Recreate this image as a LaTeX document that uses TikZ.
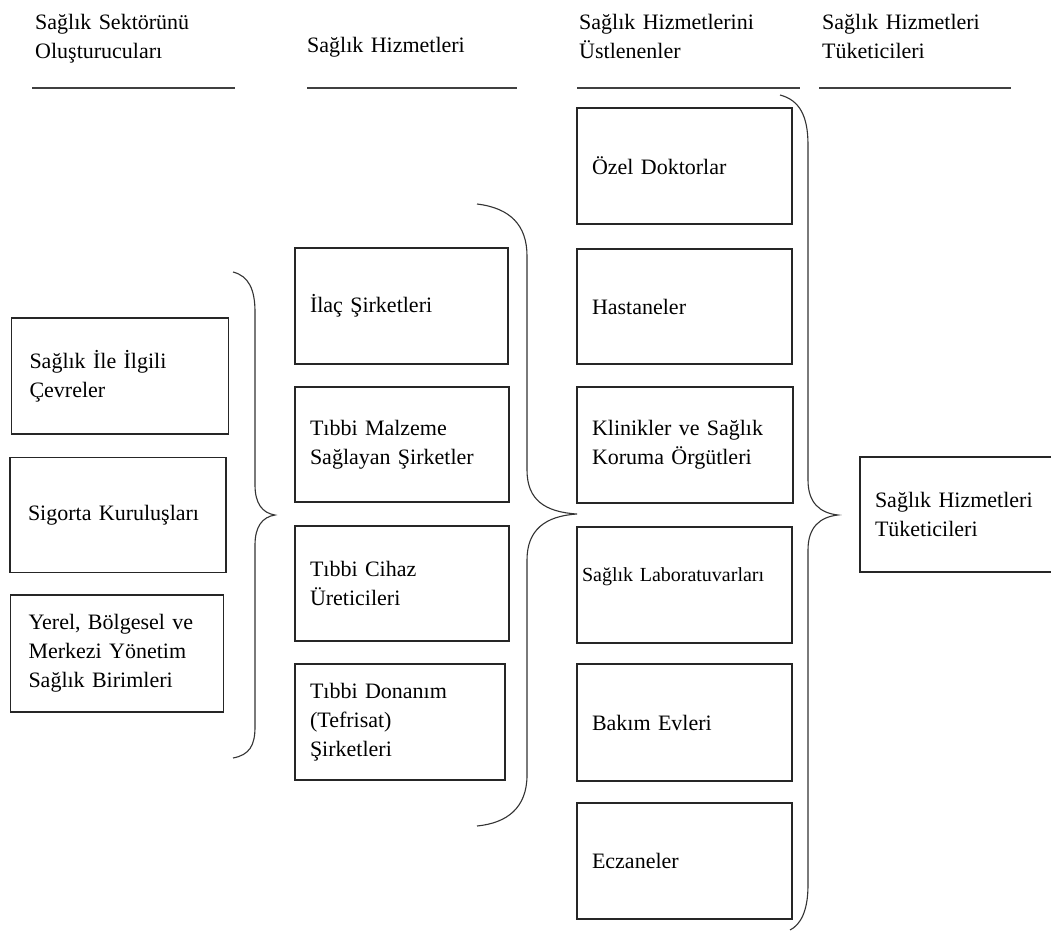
\documentclass[tikz,border=0pt]{standalone}
\usepackage{fontspec}
\setmainfont{Liberation Serif}
\tikzset{
  hdr/.style={font=\fontsize{22}{29}\selectfont, align=left, inner sep=0pt, text width=230pt, anchor=base west},
  box/.style={draw=black!85, line width=1.5pt, rectangle, inner xsep=15pt, inner ysep=0pt,
              align=left, font=\fontsize{22}{29}\selectfont, anchor=center},
  rule/.style={draw=black!75, line width=2pt},
  bracel/.style={draw=black!80, line width=1.1pt}
}
\begin{document}
\begin{tikzpicture}[x=1pt,y=-1pt]
\useasboundingbox (0,0) rectangle (1051,932);
\fill[white] (0,0) rectangle (1051,932);
\clip (0,0) rectangle (1051,932);

% headers
\node[hdr] (h1) at (35,29) {Sağlık Sektörünü\\Oluşturucuları};
\node[hdr] (h2) at (307,52) {Sağlık Hizmetleri};
\node[hdr] (h3) at (579,29) {Sağlık Hizmetlerini\\Üstlenenler};
\node[hdr] (h4) at (822,29) {Sağlık Hizmetleri\\Tüketicileri};

\coordinate (u1a) at (32,88);  \coordinate (u1b) at (235,88);
\coordinate (u2a) at (307,88); \coordinate (u2b) at (517,88);
\coordinate (u3a) at (577,88); \coordinate (u3b) at (800,88);
\coordinate (u4a) at (819,88); \coordinate (u4b) at (1011,88);
\draw[rule] (u1a) -- (u1b);
\draw[rule] (u2a) -- (u2b);
\draw[rule] (u3a) -- (u3b);
\draw[rule] (u4a) -- (u4b);

% column 1
\node[box, inner xsep=18pt, minimum width=217pt, text width=181pt, minimum height=116pt] (b1) at (120,376) {Sağlık İle İlgili\\Çevreler};
\node[box, inner xsep=18pt, minimum width=216pt, text width=180pt, minimum height=115pt] (b2) at (118,515) {Sigorta Kuruluşları};
\node[box, inner xsep=18pt, minimum width=213pt, text width=177pt, minimum height=117pt] (b3) at (117,653.5) {Yerel, Bölgesel ve\\Merkezi Yönetim\\Sağlık Birimleri};

% column 2
\node[box, minimum width=213pt, text width=183pt, minimum height=116pt] (c1) at (401.5,306) {İlaç Şirketleri};
\node[box, minimum width=214pt, text width=184pt, minimum height=115pt] (c2) at (402,444.5) {Tıbbi Malzeme\\Sağlayan Şirketler};
\node[box, minimum width=214pt, text width=184pt, minimum height=115pt] (c3) at (402,583.5) {Tıbbi Cihaz\\Üreticileri};
\node[box, minimum width=210pt, text width=180pt, minimum height=116pt] (c4) at (400,722) {Tıbbi Donanım\\(Tefrisat)\\Şirketleri};

% column 3
\node[box, minimum width=215pt, text width=185pt, minimum height=116pt] (d1) at (684.5,166) {Özel Doktorlar};
\node[box, minimum width=215pt, text width=185pt, minimum height=115pt] (d2) at (684.5,306.5) {Hastaneler};
\node[box, minimum width=216pt, text width=186pt, minimum height=116pt] (d3) at (685,445) {Klinikler ve Sağlık\\Koruma Örgütleri};
\node[box, minimum width=215pt, text width=205pt, inner xsep=5pt, minimum height=116pt,
      font=\fontsize{20}{26}\selectfont, text depth=20pt] (d4) at (684.5,585) {Sağlık Laboratuvarları};
\node[box, minimum width=215pt, text width=185pt, minimum height=117pt] (d5) at (684.5,722.5) {Bakım Evleri};
\node[box, minimum width=215pt, text width=185pt, minimum height=116pt] (d6) at (684.5,861) {Eczaneler};

% column 4
\node[box, minimum width=205pt, text width=175pt, minimum height=115pt] (e1) at (962.5,514.5) {Sağlık Hizmetleri\\Tüketicileri};

% braces
\coordinate (k1top) at (233,272); \coordinate (k1tip) at (275,515); \coordinate (k1bot) at (233,758);
\draw[bracel] (k1top) .. controls (249,276) and (255,290) .. (255,312) -- (255,485)
  .. controls (255,503) and (262,513) .. (k1tip)
  .. controls (262,517) and (255,527) .. (255,545) -- (255,727)
  .. controls (255,746) and (249,755) .. (k1bot);

\coordinate (k2top) at (477,204); \coordinate (k2tip) at (577,514); \coordinate (k2bot) at (477,826);
\draw[bracel] (k2top) .. controls (510,208) and (527,225) .. (527,256) -- (527,470)
  .. controls (527,500) and (545,512) .. (k2tip)
  .. controls (545,516) and (527,530) .. (527,560) -- (527,775)
  .. controls (527,808) and (507,823) .. (k2bot);

\coordinate (k3top) at (780,95); \coordinate (k3tip) at (838,515); \coordinate (k3bot) at (790,930);
\draw[bracel] (k3top) .. controls (799,100) and (808,115) .. (808,145) -- (808,480)
  .. controls (808,503) and (820,513) .. (k3tip)
  .. controls (820,517) and (808,527) .. (808,550) -- (808,885)
  .. controls (808,912) and (800,925) .. (k3bot);
\end{tikzpicture}
\end{document}
